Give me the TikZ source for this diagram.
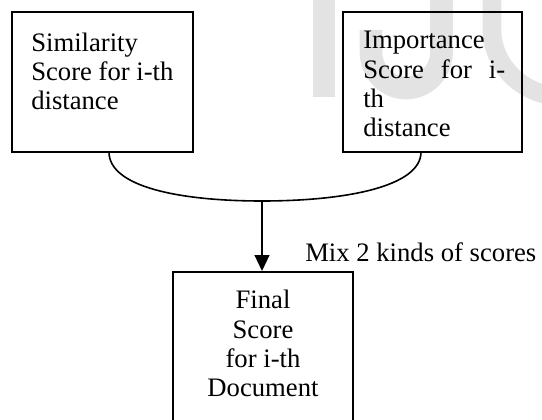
\documentclass[tikz,border=0pt]{standalone}
\usepackage{fontspec}
\setmainfont{Liberation Serif}
\usetikzlibrary{arrows.meta,calc}
\tikzset{
  boxnode/.style={draw=black, line width=1.4pt, rectangle, inner sep=0pt},
  txt/.style={inner sep=0pt, font=\fontsize{20pt}{22pt}\selectfont},
  link/.style={draw=black, line width=1.2pt},
  arr/.style={draw=black, line width=1.5pt, -{Triangle[width=11pt,length=12pt]}},
  wm/.style={draw=black!11, line cap=butt}
}
\begin{document}
\begin{tikzpicture}[x=0.75pt,y=-0.75pt]
\useasboundingbox (0,0) rectangle (542,420);
\clip (0,0) rectangle (542,420);
\fill[white] (0,0) rectangle (542,420);
% watermark
\fill[black!11] (313,0) rectangle (335,97);
\draw[wm, line width=17pt] (441.5,-5) -- (441.5,52) .. controls (441.5,72) and (425,88) .. (406,88) .. controls (387,88) and (371,72) .. (371,52) -- (371,30);
\draw[wm, line width=14pt] (492,-5) -- (492,30) .. controls (492,66) and (524,96) .. (560,96);
% boxes
\node[boxnode, minimum width=135.75pt, minimum height=105pt] (sim) at (102.5,82) {};
\node[boxnode, minimum width=134.25pt, minimum height=105pt] (imp) at (432.5,82) {};
\node[boxnode, minimum width=135pt, minimum height=126pt] (fin) at (263,356) {};
% texts
\node[txt, anchor=north west, align=left] (simt) at (31,32.5) {Similarity\\Score for i-th\\distance};
\node[txt, anchor=north west, align=left] (impt) at (363,31) {Importance\\\makebox[106.5pt][s]{Score for i-}\\th\\distance};
\node[txt, anchor=north, align=center] (fint) at (263,290) {Final\\Score\\for i-th\\Document};
\node[txt, anchor=base west] (mix) at (305,261.7) {Mix 2 kinds of scores};
% connectors
\coordinate (cl) at (109,152);
\coordinate (cr) at (421,152);
\coordinate (cm) at (262,201);
\draw[link] (cl) .. controls (109,187) and (180,201) .. (cm) .. controls (344,201) and (421,187) .. (cr);
\draw[arr] (cm) -- (cm |- fin.north);
\end{tikzpicture}
\end{document}
